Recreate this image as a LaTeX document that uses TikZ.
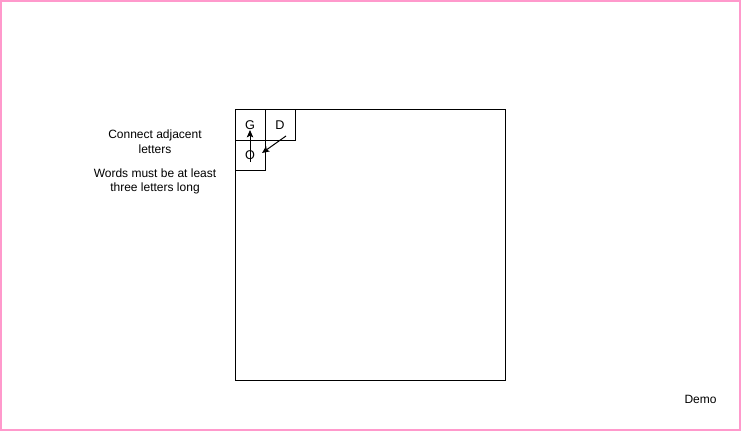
\documentclass[tikz,border=0pt]{standalone}
\usepackage{fontspec}
\setmainfont{Liberation Sans}
\usepackage{tikz}
\usetikzlibrary{positioning, arrows.meta}
\usepackage{xcolor}
\definecolor{pagepink}{HTML}{FF99CC}

\begin{document}
\begin{tikzpicture}[x=0.75pt, y=-0.75pt, line width=0.75pt, font=\fontsize{9}{11}\selectfont,
    cell/.style={draw, minimum size=22.5pt, inner sep=0pt, outer sep=0pt, anchor=north west, font=\fontsize{9.5}{11}\selectfont},
    note/.style={align=center, inner sep=0pt},
    link/.style={-{Stealth[length=5.5pt, width=4.8pt, inset=1.2pt]}}]
        % Define the page
        \useasboundingbox (0,0) rectangle (741,431);
        \draw[pagepink, line width=1.2pt] (0.8,0.8) rectangle (740.2,430.2);
        % Define the board and the letters
        \node[draw, minimum size=202.5pt, inner sep=0pt, outer sep=0pt, anchor=north west] (board) at (235,110) {};
        \node[cell] (g) at (board.north west) {G};
        \node[cell, right=0pt of g] (d) {D};
        \node[cell, below=0pt of g] (o) {O};
        \draw[link] ([yshift=-5.25pt]o.center) -- ([yshift=-3.75pt]g.center);
        \draw[link] ([xshift=4.5pt, yshift=-8.25pt]d.center) -- ([xshift=9pt, yshift=1.5pt]o.center);
        % Define the rules
        \node[note] (rule1) at (155,142) {Connect adjacent\\letters};
        \node[note] (rule2) at (155,181.5) {Words must be at least\\three letters long};
        \node[note] (demo) at (700.5,399) {Demo};
    \end{tikzpicture}
\end{document}
